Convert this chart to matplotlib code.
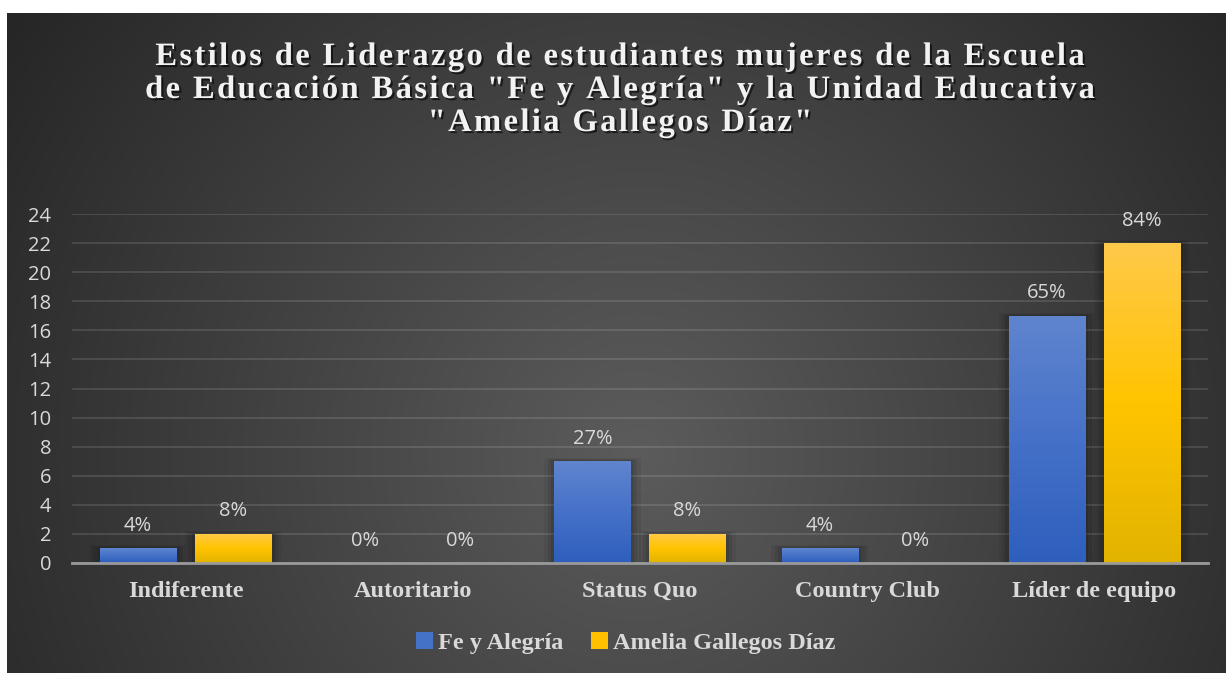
import numpy as np
import matplotlib.pyplot as plt
from matplotlib import patheffects
from matplotlib.colors import LinearSegmentedColormap
from matplotlib.font_manager import FontProperties, findfont
from matplotlib.ft2font import FT2Font, LoadFlags
from matplotlib.patches import Patch

categories = ['Indiferente', 'Autoritario', 'Status Quo', 'Country Club', 'Líder de equipo']
series_names = ['Fe y Alegría', 'Amelia Gallegos Díaz']
fe_y_alegria = [1, 0, 7, 1, 17]
amelia = [2, 0, 2, 0, 22]
fe_labels = ['4%', '0%', '27%', '4%', '65%']
amelia_labels = ['8%', '0%', '8%', '0%', '84%']
y_ticks = list(range(0, 25, 2))
title_lines = ['Estilos de Liderazgo de estudiantes mujeres de la Escuela',
               'de Educación Básica "Fe y Alegría" y la Unidad Educativa',
               '"Amelia Gallegos Díaz"']

W, H = 1226, 673
fig = plt.figure(figsize=(W / 100, H / 100), dpi=100)
fig.patch.set_facecolor('white')

# fondo con degradado radial
bg = fig.add_axes([7 / W, 0, 1 - 7 / W, 1 - 13 / H])
bg.set_axis_off()
yy, xx = np.mgrid[0:660, 0:1219]
r = np.hypot(xx - 630, yy - 440) / 760
shade = np.clip(1 - r, 0, 1)
c_out, c_in = 0.15, 0.36
img = c_out + (c_in - c_out) * shade
bg.imshow(np.dstack([img, img, img]), aspect='auto', extent=(0, 1, 0, 1), origin='upper')
bg.set_xlim(0, 1)
bg.set_ylim(0, 1)

ax = fig.add_axes([72 / W, 1 - 563 / H, (1208 - 72) / W, (563 - 214) / H])
ax.set_facecolor('none')

blue_cmap = LinearSegmentedColormap.from_list('azul', ['#2e5fbd', '#4571c8', '#6085cf'])
yellow_cmap = LinearSegmentedColormap.from_list('amarillo', ['#e2b300', '#ffc400', '#ffc94a'])

x = np.arange(len(categories))
width = 0.335
offset = 0.209
grad = np.linspace(0, 1, 256).reshape(-1, 1)
label_font = 'Open Sans'
label_size = 14.5

for vals, labels, cmap, dx in [(fe_y_alegria, fe_labels, blue_cmap, -offset),
                               (amelia, amelia_labels, yellow_cmap, offset)]:
    bars = ax.bar(x + dx, vals, width, color='none', edgecolor='none', zorder=2)
    for bar, v, lab in zip(bars, vals, labels):
        x0 = bar.get_x()
        if v > 0:
            # sombra suave alrededor de la barra
            for k, a in [(0.045, 0.06), (0.03, 0.08), (0.015, 0.1)]:
                ax.add_patch(plt.Rectangle((x0 - k, 0), bar.get_width() + 2 * k, v + k * 24 / 5,
                                           facecolor='black', alpha=a, edgecolor='none', zorder=1.5))
            im = ax.imshow(grad, cmap=cmap, aspect='auto', origin='lower',
                           extent=(x0, x0 + bar.get_width(), 0, v), zorder=2)
            im.set_clip_path(bar)
        ax.annotate(lab, (x0 + bar.get_width() / 2, v), xytext=(0, 9), textcoords='offset points',
                    ha='center', va='bottom', color='#d9d9d9', fontsize=label_size, family=label_font)

ax.set_xlim(-0.5, len(categories) - 0.5)
ax.set_ylim(0, 24)
ax.set_yticks(y_ticks)
ax.set_xticks(x)
ax.set_xticklabels(categories, family='Liberation Serif', weight='bold', fontsize=17.5, color='#d9d9d9')
for t in ax.get_yticklabels():
    t.set_family(label_font)
    t.set_fontsize(label_size)
    t.set_color('#d9d9d9')
ax.tick_params(axis='both', length=0)
ax.tick_params(axis='y', pad=15)
ax.tick_params(axis='x', pad=13)
ax.yaxis.grid(True, color='white', alpha=0.13, linewidth=1.3)
ax.set_axisbelow(True)
for s in ['top', 'right', 'left']:
    ax.spines[s].set_visible(False)
ax.spines['bottom'].set_color('#9a9a9a')
ax.spines['bottom'].set_linewidth(2)
ax.spines['bottom'].set_zorder(3)

# título con espaciado entre letras
title_size = 23.5
fp = FontProperties(family='Liberation Serif', weight='bold', size=title_size)
ft = FT2Font(findfont(fp))
ft.set_size(title_size, 72)
spacing = 2.35
baselines = [65, 98, 131]
for line, base in zip(title_lines, baselines):
    adv = []
    for c in line:
        g = ft.load_char(ord(c), flags=LoadFlags.NO_HINTING)
        adv.append(g.linearHoriAdvance / 65536 * 100 / 72)
    total = sum(adv) + spacing * (len(line) - 1)
    xp = 620 - total / 2
    for c, a in zip(line, adv):
        if c != ' ':
            fig.text(xp / W, 1 - base / H, c, fontproperties=fp, color='#f2f2f2',
                     ha='left', va='baseline',
                     path_effects=[patheffects.withSimplePatchShadow(offset=(1.5, -1.5),
                                                                     shadow_rgbFace='black', alpha=0.6)])
        xp += a + spacing

handles = [Patch(facecolor='#4472c4'), Patch(facecolor='#ffc000')]
leg = fig.legend(handles, series_names, loc='center', bbox_to_anchor=(626 / W, 1 - 643 / H), ncol=2,
                 frameon=False, handlelength=0.7, handleheight=0.7, handletextpad=0.2,
                 columnspacing=1.15, prop=FontProperties(family='Liberation Serif', weight='bold', size=17.5))
for t in leg.get_texts():
    t.set_color('#d9d9d9')

fig.savefig('out.png', dpi=100)
